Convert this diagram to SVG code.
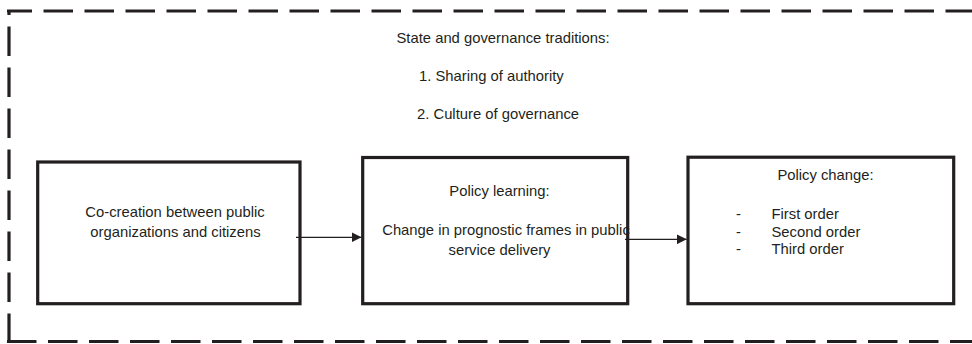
<svg xmlns="http://www.w3.org/2000/svg" width="972" height="344" viewBox="0 0 972 344">
<defs>
<style>
.box{fill:#fff;stroke:#231f20;stroke-width:3.2}
.dash{fill:none;stroke:#231f20;stroke-width:3.2;stroke-dasharray:29.5 11.5;stroke-linecap:butt}
.t{font-family:"Liberation Sans",Arial,sans-serif;font-size:14.8px;fill:#231f20}
.m{text-anchor:middle}
.conn{stroke:#231f20;stroke-width:1.3;fill:none}
</style>
<marker id="ah" markerUnits="userSpaceOnUse" markerWidth="10" markerHeight="10" refX="10" refY="5" orient="auto">
<path d="M0,0 L10,5 L0,10 z" fill="#231f20"/>
</marker>
</defs>
<rect width="972" height="344" fill="#fff"/>
<g id="context">
<path class="dash" d="M7,11 H972" stroke-dashoffset="4.5"/>
<path class="dash" d="M9,10 V343" stroke-dashoffset="24.5"/>
<path class="dash" d="M7,341.5 H972"/>
<text class="t" x="396.5" y="42.5">State and governance traditions:</text>
<text class="t" x="419" y="80.5">1. Sharing of authority</text>
<text class="t" x="417" y="118.5">2. Culture of governance</text>
</g>
<g id="cocreation">
<rect class="box" x="37.7" y="162" width="262.3" height="141.7"/>
<text class="t m" x="175" y="217">Co-creation between public</text>
<text class="t m" x="175.5" y="237">organizations and citizens</text>
</g>
<g id="learning">
<rect class="box" x="362.7" y="157.5" width="265" height="146.2"/>
<text class="t m" x="499.5" y="196">Policy learning:</text>
<text class="t m" x="506" y="235">Change in prognostic frames in public</text>
<text class="t m" x="499.5" y="255">service delivery</text>
</g>
<g id="change">
<rect class="box" x="688" y="157.2" width="265.7" height="146.5"/>
<text class="t m" x="825.5" y="180">Policy change:</text>
<text class="t" x="736" y="219">-</text>
<text class="t" x="771.5" y="219">First order</text>
<text class="t" x="736" y="236.5">-</text>
<text class="t" x="771.5" y="236.5">Second order</text>
<text class="t" x="736" y="254">-</text>
<text class="t" x="771.5" y="254">Third order</text>
</g>
<g id="connectors">
<path class="conn" d="M296,237.3 L361.5,237.3" marker-end="url(#ah)"/>
<path class="conn" d="M625,239.3 L686.7,239.3" marker-end="url(#ah)"/>
</g>
</svg>
